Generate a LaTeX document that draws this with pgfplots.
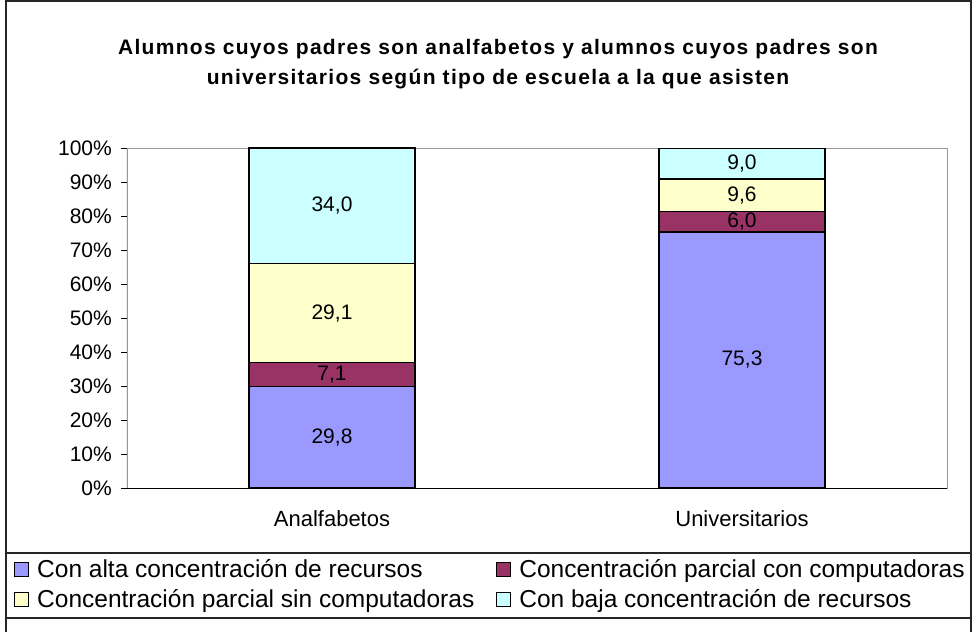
\documentclass[border=0pt]{standalone}
\usepackage{fontspec}
\setmainfont{Liberation Sans}
\usepackage{pgfplots}
\pgfplotsset{compat=1.18}
\usepackage{pgfplotstable}
\definecolor{cAlta}{HTML}{9999FF}
\definecolor{cConC}{HTML}{993366}
\definecolor{cSinC}{HTML}{FFFFCC}
\definecolor{cBaja}{HTML}{CCFFFF}
\pgfplotstableread{
x v
0 29.8
1 75.3
}\tAlta
\pgfplotstableread{
x v
0 7.1
1 6.0
}\tConC
\pgfplotstableread{
x v
0 29.1
1 9.6
}\tSinC
\pgfplotstableread{
x v
0 34.0
1 9.0
}\tBaja
\begin{document}
\begin{tikzpicture}[x=1pt,y=1pt]
\useasboundingbox (-127,-143) rectangle (846,488);
\draw[line width=1.3pt,black!85] (-121,-145) rectangle (844,487);
\draw[line width=1.3pt,black!85] (-121,-65) -- (844,-65);
\draw[line width=1.3pt,black!85] (-121,-130) -- (844,-130);
\node[font=\fontsize{21}{25}\bfseries\addfontfeature{LetterSpace=6.2}] at (371,439) {Alumnos cuyos padres son analfabetos y alumnos cuyos padres son};
\node[font=\fontsize{21}{25}\bfseries\addfontfeature{LetterSpace=6.2}] at (371,409) {universitarios según tipo de escuela a la que asisten};
\begin{axis}[
  at={(0,0)}, anchor=south west,
  scale only axis, width=820pt, height=340pt,
  ybar stacked, bar width=166pt,
  xmin=-0.5, xmax=1.5, ymin=0, ymax=100,
  axis line style={draw=gray!80, line width=0.8pt},
  xtick={0,1}, xticklabels={Analfabetos,Universitarios},
  xtick style={draw=none},
  extra x ticks={-0.5,0.5,1.5}, extra x tick labels={},
  extra x tick style={tick style={draw=black, line width=0.8pt}, major tick length=6pt},
  ytick={0,10,...,100},
  yticklabel={\pgfmathprintnumber{\tick}\%},
  ytick style={draw=black, line width=0.8pt},
  major tick length=6pt,
  tick align=outside, xtick pos=bottom, ytick pos=left,
  yticklabel style={font=\fontsize{21}{25}\selectfont, inner sep=0pt, xshift=-9pt},
  xticklabel style={font=\fontsize{22}{26}\selectfont, inner sep=0pt, yshift=-16pt},
  /pgf/number format/assume math mode=true,
  point meta=explicit,
  nodes near coords={\pgfmathprintnumber[fixed,fixed zerofill,precision=1,use comma]{\pgfplotspointmeta}},
  every node near coord/.append style={anchor=center, font=\fontsize{21}{25}\selectfont},
  legend image code/.code={\draw[#1,draw=black,line width=1pt] (0pt,-7pt) rectangle (14pt,7pt);},
  legend columns=2,
  legend cell align=left,
  legend style={at={(axis description cs:-0.1378,-0.205)}, anchor=north west, draw=none, fill=none,
    font=\fontsize{24.5}{29}\selectfont, inner sep=0pt, row sep=6pt,
    nodes={inner sep=2pt},
    /tikz/every odd column/.append style={column sep=6pt},
    /tikz/every even column/.append style={column sep=20pt}},
]
\addplot[fill=cAlta, draw=black, line width=1.5pt] table[x=x,y=v,meta=v] {\tAlta};
\addlegendentry{Con alta concentración de recursos}
\addplot[fill=cConC, draw=black, line width=1.5pt] table[x=x,y=v,meta=v] {\tConC};
\addlegendentry{Concentración parcial con computadoras}
\addplot[fill=cSinC, draw=black, line width=1.5pt] table[x=x,y=v,meta=v] {\tSinC};
\addlegendentry{Concentración parcial sin computadoras}
\addplot[fill=cBaja, draw=black, line width=1.5pt] table[x=x,y=v,meta=v] {\tBaja};
\addlegendentry{Con baja concentración de recursos}
\draw[black, line width=1pt] (rel axis cs:0,0) -- (rel axis cs:1,0);
\draw[gray!70!black, line width=1pt] (rel axis cs:0,0) -- (rel axis cs:0,1);
\end{axis}
\end{tikzpicture}
\end{document}
